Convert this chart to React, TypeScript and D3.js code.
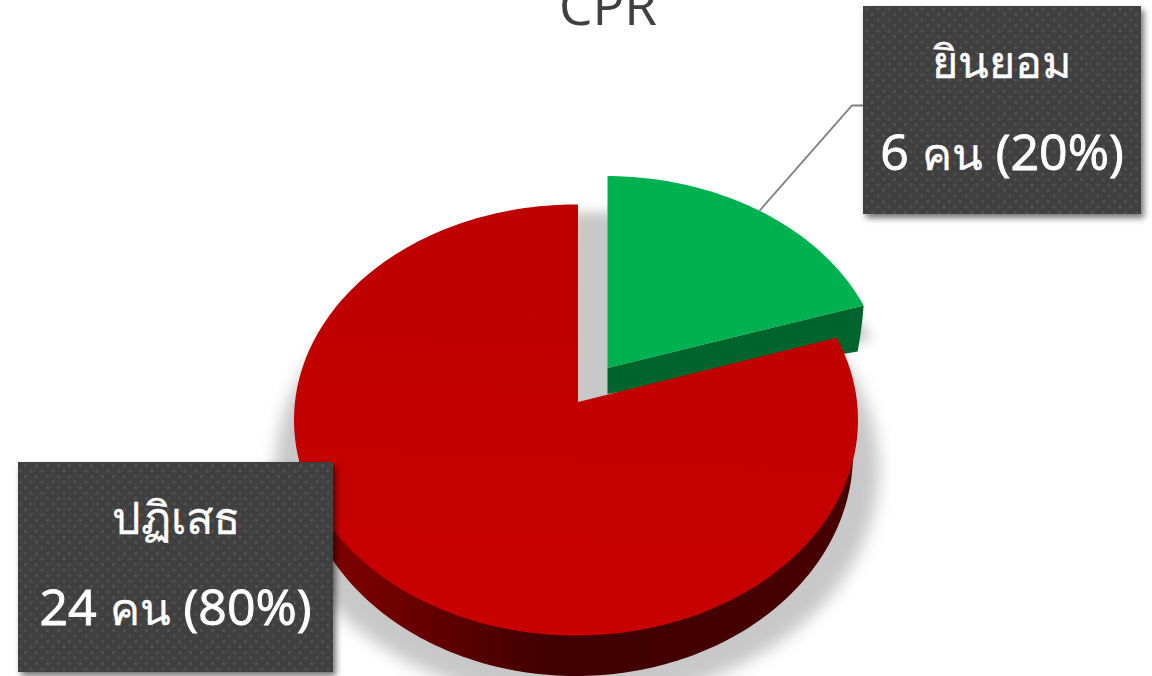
import React from "react";
import * as d3 from "d3";

const categories = ["ยินยอม", "ปฏิเสธ"];
const counts = [6, 24];
const valueLabels = ["6 คน (20%)", "24 คน (80%)"];
const title = "CPR";

type Ell = { ax: number; ay: number; ox: number; oy: number; rx: number; ry: number };

// Point where the ray from a wedge's apex at pie angle a meets its ellipse (perspective pie)
function rayPoint(e: Ell, a: number): [number, number] {
  const px = e.ox / e.rx, py = e.oy / e.ry;
  const dx = Math.sin(a), dy = -Math.cos(a);
  const b = px * dx + py * dy;
  const t = -b + Math.sqrt(b * b - (px * px + py * py) + 1);
  return [e.ax + e.rx * dx * t, e.ay + e.ry * dy * t];
}

const line = d3.line();
function wedge(e: Ell, a0: number, a1: number): string {
  const n = Math.max(2, Math.ceil((a1 - a0) / 0.02));
  const scale = d3.scaleLinear().domain([0, n]).range([a0, a1]);
  const pts: [number, number][] = [[e.ax, e.ay]];
  for (const i of d3.range(n + 1)) pts.push(rayPoint(e, scale(i)));
  return line(pts)! + "Z";
}

const arcs = d3.pie<number>().sort(null).startAngle(0).endAngle(2 * Math.PI)(counts);
const [greenArc, redArc] = arcs;

const redTop: Ell = { ax: 578, ay: 402, ox: 2, oy: -18, rx: 282, ry: 215.5 };
const redBottom: Ell = { ax: 578, ay: 430, ox: 2, oy: -24, rx: 277, ry: 222 };
const greenTop: Ell = { ax: 607.5, ay: 368, ox: 2, oy: -18, rx: 279.5, ry: 210 };

const gTip = rayPoint(greenTop, greenArc.endAngle);
const greenSide = `M${greenTop.ax},${greenTop.ay}L${gTip[0]},${gTip[1]}Q${gTip[0] - 2},${gTip[1] + 25} ${gTip[0] - 6},${gTip[1] + 46}L${greenTop.ax},${greenTop.ay + 26}Z`;
const leaderStart = rayPoint(greenTop, (greenArc.startAngle + greenArc.endAngle) / 2);

const boxes = [
  { x: 863, y: 6, w: 278, h: 208, b1: 78, b2: 170 },
  { x: 18, y: 462, w: 315, h: 210, b1: 534, b2: 625 },
];

// Thai runs are set smaller than the Latin digits, as in the reference
function runs(s: string) {
  return s.split(/([\u0E00-\u0E7F]+)/).filter(Boolean).map((part, i) => {
    const thai = /[\u0E00-\u0E7F]/.test(part);
    return (
      <tspan key={i} fontSize={thai ? 45 : 50} strokeWidth={thai ? 0.3 : 0.9}>
        {part}
      </tspan>
    );
  });
}

export default function App() {
  return (
    <svg width={1152} height={676} style={{ position: "fixed", left: 0, top: 0, background: "#fff" }}>
      <defs>
        <filter id="blurBig" x="-20%" y="-20%" width="140%" height="140%"><feGaussianBlur stdDeviation={8} /></filter>
        <filter id="blurSm" x="-30%" y="-30%" width="160%" height="160%"><feGaussianBlur stdDeviation={6} /></filter>
        <filter id="boxShadow" x="-10%" y="-10%" width="125%" height="125%">
          <feDropShadow dx={3} dy={4} stdDeviation={3} floodColor="#000" floodOpacity={0.55} />
        </filter>
        <linearGradient id="redSide" gradientUnits="userSpaceOnUse" x1={300} x2={860} y1={0} y2={0}>
          <stop offset="0" stopColor="#8a0000" />
          <stop offset="0.12" stopColor="#760000" />
          <stop offset="0.45" stopColor="#3f0000" />
          <stop offset="1" stopColor="#480000" />
        </linearGradient>
        <linearGradient id="redFace" gradientUnits="userSpaceOnUse" x1={560} y1={205} x2={540} y2={640}>
          <stop offset="0" stopColor="#bd0000" />
          <stop offset="1" stopColor="#c80000" />
        </linearGradient>
        <pattern id="dots" width={11} height={11} patternUnits="userSpaceOnUse" x={2} y={2}>
          <rect width={11} height={11} fill="#3f3f3f" />
          <rect x={0} y={0} width={3} height={3} fill="#4f4f4f" />
          <rect x={5.5} y={5.5} width={3} height={3} fill="#4f4f4f" />
        </pattern>
      </defs>

      <text x={608} y={25} textAnchor="middle" fontFamily="'Open Sans'" fontSize={53} fill="#404040">{title}</text>

      <ellipse cx={577} cy={470} rx={302} ry={232} fill="#c8c8c8" filter="url(#blurBig)" />
      <g filter="url(#blurSm)" fill="#c8c8c8">
        <path d={wedge(greenTop, greenArc.startAngle, greenArc.endAngle)} transform="translate(8,34)" />
        <rect x={570} y={212} width={45} height={190} />
      </g>

      <path d={greenSide} fill="#00652c" />
      <path d={wedge(greenTop, greenArc.startAngle, greenArc.endAngle)} fill="#00b14f" />

      <path d={wedge(redBottom, redArc.startAngle, redArc.endAngle)} fill="url(#redSide)" />
      <path d={wedge(redTop, redArc.startAngle, redArc.endAngle)} fill="url(#redFace)" />

      <path d={`M${leaderStart[0]},${leaderStart[1]}L852,105.5H864`} fill="none" stroke="#7f7f7f" strokeWidth={1.8} />

      {boxes.map((b, i) => (
        <g key={categories[i]}>
          <rect x={b.x} y={b.y} width={b.w} height={b.h} fill="url(#dots)" filter="url(#boxShadow)" />
          <g textAnchor="middle" fill="#fff" stroke="#fff" fontFamily="'Open Sans','Noto Sans'">
            <text x={b.x + b.w / 2} y={b.b1}>{runs(categories[i])}</text>
            <text x={b.x + b.w / 2} y={b.b2}>{runs(valueLabels[i])}</text>
          </g>
        </g>
      ))}
    </svg>
  );
}
